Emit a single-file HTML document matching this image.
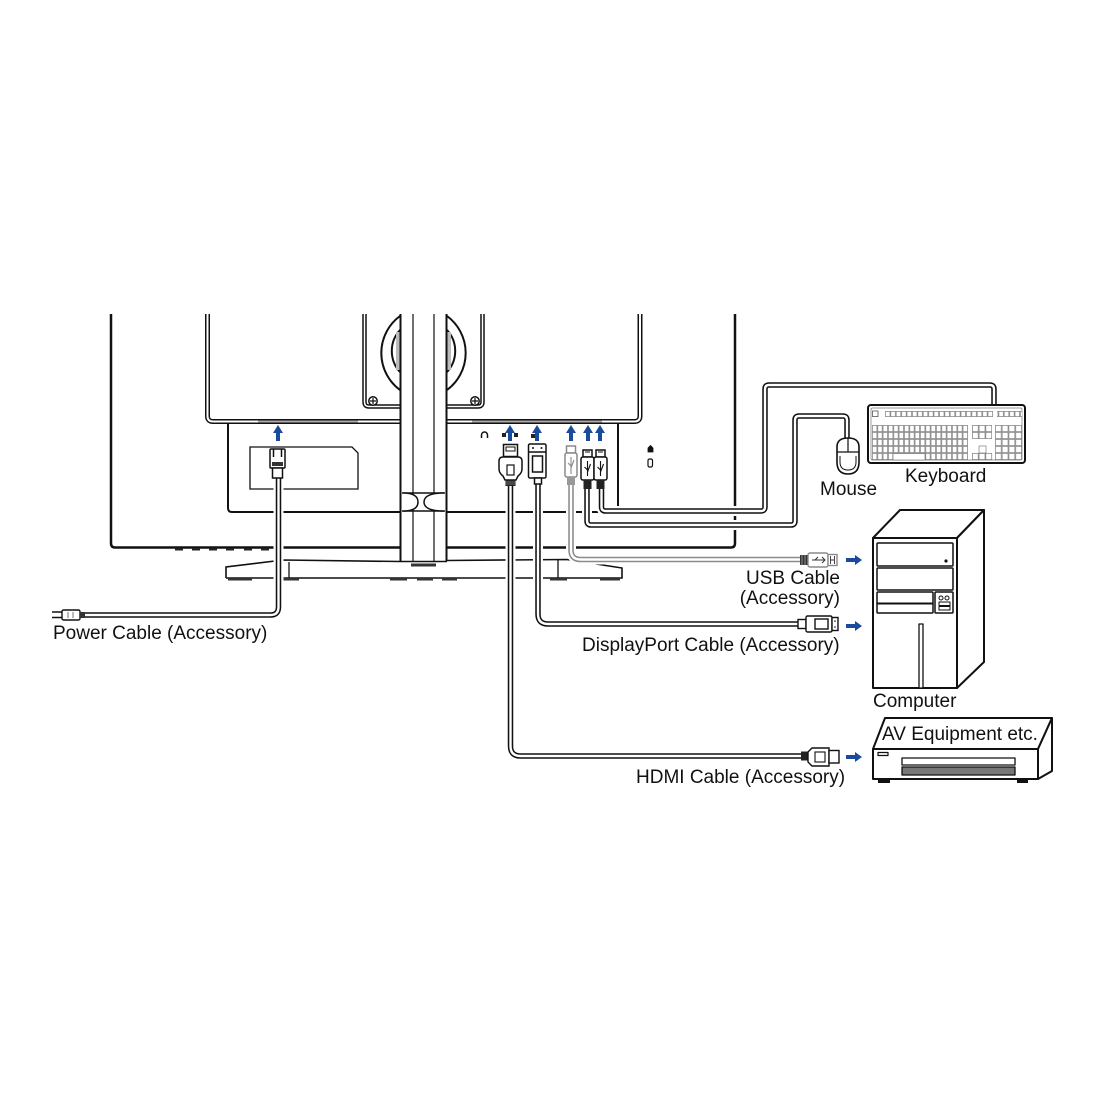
<!DOCTYPE html>
<html><head><meta charset="utf-8">
<style>
html,body{margin:0;padding:0;background:#fff;width:1100px;height:1100px;overflow:hidden}
svg{display:block}
text{font-family:"Liberation Sans",Arial,sans-serif;font-size:19px;fill:#111}
</style></head><body>
<svg width="1100" height="1100" viewBox="0 0 1100 1100" xmlns="http://www.w3.org/2000/svg">
<defs>
 <pattern id="kA" patternUnits="userSpaceOnUse" x="872" y="425" width="5.33" height="7"><rect x="0.4" y="0.4" width="4.5" height="6.2" fill="#fff" stroke="#666" stroke-width="0.6"/></pattern>
 <pattern id="kF" patternUnits="userSpaceOnUse" x="885" y="411" width="5.4" height="6"><rect x="0.4" y="0.4" width="4.6" height="5.2" fill="#fff" stroke="#666" stroke-width="0.6"/></pattern>
 <pattern id="kN" patternUnits="userSpaceOnUse" x="972" y="425" width="6.7" height="7"><rect x="0.4" y="0.4" width="5.9" height="6.2" fill="#fff" stroke="#666" stroke-width="0.6"/></pattern>
 <pattern id="kP" patternUnits="userSpaceOnUse" x="995" y="425" width="6.75" height="7"><rect x="0.4" y="0.4" width="5.9" height="6.2" fill="#fff" stroke="#666" stroke-width="0.6"/></pattern>
 <path id="up" d="M-5,8 L0,0 L5,8 H2 V16 H-2 V8 Z" fill="#1a4a9c"/>
 <path id="rt" d="M0,-2 H9 V-5 L16,0 L9,5 V2 H0 Z" fill="#1a4a9c"/>
</defs>

<!-- ============ MONITOR ============ -->
<g fill="none" stroke="#111">
 <!-- outer body -->
 <path d="M111,314 V543 Q111,547.5 115,547.5 H400" stroke-width="2.5"/>
 <path d="M447,547.5 H731 Q735,547.5 735,543 V314" stroke-width="2.5"/>
 <!-- feet dashes -->
 <g fill="#222" stroke="none">
  <rect x="175" y="548" width="8" height="2.5"/><rect x="192" y="548" width="8" height="2.5"/>
  <rect x="209" y="548" width="8" height="2.5"/><rect x="226" y="548" width="8" height="2.5"/>
  <rect x="244" y="548" width="8" height="2.5"/><rect x="261" y="548" width="8" height="2.5"/>
 </g>
 <!-- panel double edge -->
 <path d="M207.5,314 V416 Q207.5,421.5 213,421.5 H400" stroke-width="5"/>
 <path d="M207.5,314 V416 Q207.5,421.5 213,421.5 H400" stroke="#fff" stroke-width="2"/>
 <path d="M447,421.5 H634.5 Q640,421.5 640,416 V314" stroke-width="5"/>
 <path d="M447,421.5 H634.5 Q640,421.5 640,416 V314" stroke="#fff" stroke-width="2"/>
 <rect x="258" y="420.5" width="100" height="2" fill="#aaa" stroke="none"/>
 <rect x="472" y="420.5" width="130" height="2" fill="#aaa" stroke="none"/>
 <!-- lower I/O box -->
 <path d="M228,424 V508 Q228,512 232,512 H400" stroke-width="2"/>
 <path d="M447,512 H618 V424" stroke-width="2"/>
 <!-- label box -->
 <path d="M250,447 H352 L358,453 V489 H250 Z" stroke-width="1.3"/>

 <!-- VESA plates -->
 <path d="M364.5,314 V402 Q364.5,406.5 369,406.5 H400" stroke-width="4.5"/>
 <path d="M364.5,314 V402 Q364.5,406.5 369,406.5 H400" stroke="#fff" stroke-width="1.5"/>
 <path d="M447,406.5 H478 Q482.5,406.5 482.5,402 V314" stroke-width="4.5"/>
 <path d="M447,406.5 H478 Q482.5,406.5 482.5,402 V314" stroke="#fff" stroke-width="1.5"/>
 <path d="M400,316 A46,46 0 0,0 400,390" stroke-width="2"/>
 <path d="M400,330 A31,31 0 0,0 400,372" stroke-width="2"/>
 <path d="M447,316 A46,46 0 0,1 447,390" stroke-width="2"/>
 <path d="M447,330 A31,31 0 0,1 447,372" stroke-width="2"/>
 <rect x="396" y="332" width="4" height="38" fill="#bbb" stroke="none"/>
 <rect x="447" y="332" width="4" height="38" fill="#bbb" stroke="none"/>
 <circle cx="373" cy="401" r="4.2" stroke-width="1.5" fill="#fff"/>
 <path d="M370,401 H376 M373,398 V404" stroke-width="1.2"/>
 <circle cx="475" cy="401" r="4.2" stroke-width="1.5" fill="#fff"/>
 <path d="M472,401 H478 M475,398 V404" stroke-width="1.2"/>

 <!-- neck -->
 <rect x="400" y="314" width="47" height="247" fill="#fff" stroke="none"/>
 <path d="M400.5,314 V561 M446.5,314 V561" stroke-width="2"/>
 <path d="M413,314 V561 M434,314 V561" stroke-width="1.2"/>
 <!-- cable clip -->
 <path d="M402,493 H445 M402,511 H445" stroke-width="1.5"/>
 <path d="M403,493 Q418,493 418,502 Q418,511 403,511" stroke-width="1.5" fill="#fff"/>
 <path d="M444,493 Q424,493 424,502 Q424,511 444,511" stroke-width="1.5" fill="#fff"/>

 <!-- base -->
 <path d="M226,578 V567 L283,560 L400,561.5" stroke-width="1.6"/>
 <path d="M447,560.5 L567,559.5 L622,568 V578 H226" stroke-width="1.6"/>
 <path d="M400,561.5 H447" stroke-width="1.6"/>
 <path d="M289,562 V578 M558,560 V578" stroke-width="1.3"/>
 <g fill="#333" stroke="none">
  <rect x="228" y="578" width="24" height="2.5"/><rect x="283" y="578" width="16" height="2.5"/>
  <rect x="390" y="578" width="17" height="2.5"/><rect x="417" y="578" width="16" height="2.5"/>
  <rect x="442" y="578" width="15" height="2.5"/><rect x="550" y="578" width="17" height="2.5"/>
  <rect x="600" y="578" width="20" height="2.5"/>
  <rect x="411" y="563.5" width="25" height="3"/>
 </g>
</g>

<!-- ============ CABLES ============ -->
<g fill="none" stroke-linejoin="round">
 <!-- halos -->
 <g stroke="#fff" stroke-width="10">
  <path d="M278.5,478 V607 Q278.5,615 270.5,615 H85"/>
  <path d="M510.5,486 V746 Q510.5,756 520.5,756 H801"/>
  <path d="M538,484 V614 Q538,624 548,624 H798"/>
  <path d="M571,485 V550 Q571,559.5 580.5,559.5 H801"/>
  <path d="M587,489 V521 Q587,525 591,525 H791 Q795,525 795,521 V420 Q795,416 799,416 H843 Q847,416 847,420 V438"/>
  <path d="M601.5,489 V507 Q601.5,511 605.5,511 H761 Q765,511 765,507 V389 Q765,385 769,385 H990 Q994,385 994,389 V405"/>
 </g>
 <g stroke="#111" stroke-width="5.5">
  <path d="M278.5,478 V607 Q278.5,615 270.5,615 H85"/>
  <path d="M510.5,486 V746 Q510.5,756 520.5,756 H801"/>
  <path d="M538,484 V614 Q538,624 548,624 H798"/>
  <path d="M587,489 V521 Q587,525 591,525 H791 Q795,525 795,521 V420 Q795,416 799,416 H843 Q847,416 847,420 V438"/>
  <path d="M601.5,489 V507 Q601.5,511 605.5,511 H761 Q765,511 765,507 V389 Q765,385 769,385 H990 Q994,385 994,389 V405"/>
 </g>
 <path d="M571,485 V550 Q571,559.5 580.5,559.5 H801" stroke="#8a8a8a" stroke-width="5.5"/>
 <g stroke="#fff" stroke-width="2.4">
  <path d="M278.5,478 V607 Q278.5,615 270.5,615 H85"/>
  <path d="M510.5,486 V746 Q510.5,756 520.5,756 H801"/>
  <path d="M538,484 V614 Q538,624 548,624 H798"/>
  <path d="M571,485 V550 Q571,559.5 580.5,559.5 H801"/>
  <path d="M587,489 V521 Q587,525 591,525 H791 Q795,525 795,521 V420 Q795,416 799,416 H843 Q847,416 847,420 V438"/>
  <path d="M601.5,489 V507 Q601.5,511 605.5,511 H761 Q765,511 765,507 V389 Q765,385 769,385 H990 Q994,385 994,389 V405"/>
 </g>
</g>

<!-- ============ CONNECTORS AT MONITOR ============ -->
<g stroke="#111" stroke-width="1.5" fill="#fff">
 <!-- power -->
 <rect x="270" y="449" width="15" height="19" rx="1"/>
 <path d="M273.5,449 V457 M281.5,449 V457" fill="none"/>
 <rect x="272" y="462" width="11" height="4" fill="#333" stroke="none"/>
 <rect x="272.5" y="468" width="10" height="10"/>
 <!-- HDMI -->
 <rect x="503.5" y="444.5" width="14" height="12"/>
 <rect x="506" y="447" width="9" height="4" fill="none" stroke-width="1"/>
 <path d="M499,461 Q499,457 503,457 H518 Q522,457 522,461 V469 Q522,473 518,476 L516,480 H505 L503,476 Q499,473 499,469 Z"/>
 <rect x="507" y="465" width="7" height="10" fill="none" stroke-width="1.2"/>
 <rect x="505.5" y="480" width="10" height="6" fill="#222" stroke="none"/>
 <path d="M506,482 H515 M506,484 H515" stroke="#888" stroke-width="0.7"/>
 <!-- DP -->
 <rect x="528.5" y="444" width="17.5" height="34" rx="1.5"/>
 <path d="M528.5,452 H546" fill="none"/>
 <circle cx="533" cy="448" r="1" fill="#111" stroke="none"/>
 <circle cx="541.5" cy="448" r="1" fill="#111" stroke="none"/>
 <rect x="532.5" y="456" width="10" height="16"/>
 <rect x="534.5" y="478" width="7" height="6"/>
 <!-- USB gray -->
 <g stroke="#8a8a8a">
  <rect x="566.5" y="446" width="9" height="7"/>
  <rect x="565" y="453" width="12" height="24" rx="2"/>
  <path d="M571,457 V474 M568,463 L571,466 M574,460 L571,468" fill="none" stroke-width="1.1"/>
  <rect x="567" y="477" width="8" height="8" fill="#999" stroke="none"/>
 </g>
 <!-- USB black 1 -->
 <rect x="583" y="450" width="9" height="7"/>
 <path d="M585,452 H590" stroke-width="1"/>
 <rect x="581" y="457" width="13" height="23" rx="2"/>
 <path d="M587.5,461 V476 M584.5,467 L587.5,470 M590.5,464 L587.5,472" fill="none" stroke-width="1.1"/>
 <rect x="583.5" y="480" width="8" height="9" fill="#222" stroke="none"/>
 <!-- USB black 2 -->
 <rect x="596" y="450" width="9" height="7"/>
 <path d="M598,452 H603" stroke-width="1"/>
 <rect x="594" y="457" width="13" height="23" rx="2"/>
 <path d="M600.5,461 V476 M597.5,467 L600.5,470 M603.5,464 L600.5,472" fill="none" stroke-width="1.1"/>
 <rect x="596.5" y="480" width="8" height="9" fill="#222" stroke="none"/>
</g>
<!-- small port icons -->
<g fill="none" stroke="#111" stroke-width="1.5">
 <path d="M481.5,438 V435 A3,3 0 0,1 487.5,435 V438"/>
 <path d="M648,452 V448 L650.5,445.5 L653,448 V452 Z" fill="#111" stroke-width="0.8"/>
 <rect x="648" y="459" width="4.5" height="8" rx="1.5" stroke-width="1.2"/>
</g>
<rect x="502" y="433" width="4" height="4" fill="#222"/>
<rect x="514" y="433" width="4" height="4" fill="#222"/>
<rect x="531" y="434" width="4" height="4" fill="#222"/>

<!-- up arrows -->
<use href="#up" x="278" y="425"/>
<use href="#up" x="510" y="425"/>
<use href="#up" x="537" y="425"/>
<use href="#up" x="571" y="425"/>
<use href="#up" x="588" y="425"/>
<use href="#up" x="600" y="425"/>

<!-- ============ CABLE ENDS ============ -->
<g stroke="#111" stroke-width="1.4" fill="#fff">
 <!-- power plug -->
 <path d="M52,612 H63 M52,617.5 H63" stroke-width="1.6" fill="none"/>
 <rect x="62" y="610" width="18" height="10" rx="1.5"/>
 <path d="M68,612 V618 M73,612 V618" stroke="#777" stroke-width="1" fill="none"/>
 <rect x="80" y="612" width="5" height="6" fill="#333" stroke="none"/>
 <!-- HDMI end -->
 <rect x="801" y="751.5" width="7" height="9" fill="#222" stroke="none"/>
 <path d="M808,752 L812,748 H829 V766 H812 L808,762 Z"/>
 <rect x="815" y="752" width="10" height="10" stroke-width="1.1"/>
 <rect x="829" y="750.5" width="10" height="12.5"/>
 <!-- DP end -->
 <rect x="798" y="619.5" width="8" height="9"/>
 <rect x="806" y="616" width="26" height="16" rx="1.5"/>
 <rect x="815" y="619" width="13" height="10"/>
 <rect x="832" y="617.5" width="6" height="13"/>
 <circle cx="835" cy="621" r="0.8" fill="#111" stroke="none"/>
 <circle cx="835" cy="627" r="0.8" fill="#111" stroke="none"/>
 <!-- USB end -->
 <g stroke="#8a8a8a">
  <rect x="800" y="555" width="8" height="10" fill="#333" stroke="none"/>
  <path d="M802,555 V565 M805,555 V565" stroke="#aaa" stroke-width="0.8"/>
  <rect x="808" y="553" width="20" height="14" rx="2"/>
  <path d="M812,560 H825 M822,557 L825,560 L822,563 M815,560 L818,557" fill="none" stroke="#333" stroke-width="1"/>
  <rect x="828" y="554.5" width="9" height="11"/>
  <path d="M830.5,556 V564 M834.5,556 V564 M830.5,560 H834.5" fill="none" stroke="#333" stroke-width="0.9"/>
 </g>
</g>

<!-- right arrows -->
<use href="#rt" x="846" y="560"/>
<use href="#rt" x="846" y="626"/>
<use href="#rt" x="846" y="757"/>

<!-- ============ KEYBOARD ============ -->
<rect x="868" y="405" width="157" height="58" rx="3" fill="#fff" stroke="#111" stroke-width="2"/>
<rect x="871" y="408" width="151" height="52" rx="1.5" fill="none" stroke="#777" stroke-width="0.7"/>
<rect x="872.5" y="411" width="5.5" height="5.5" fill="#fff" stroke="#555" stroke-width="0.8"/>
<rect x="885" y="411" width="108" height="6" fill="url(#kF)"/>
<rect x="997" y="411" width="25" height="6" fill="url(#kF)"/>
<rect x="872" y="425" width="96" height="35" fill="url(#kA)"/>
<rect x="893" y="453.5" width="32" height="6.5" fill="#fff" stroke="#666" stroke-width="0.6"/>
<rect x="972" y="425" width="20" height="14" fill="url(#kN)"/>
<rect x="979" y="446" width="7" height="7" fill="#fff" stroke="#666" stroke-width="0.6"/>
<rect x="972" y="453" width="20.1" height="7" fill="url(#kN)"/>
<rect x="995" y="425" width="27" height="35" fill="url(#kP)"/>

<!-- ============ MOUSE ============ -->
<g fill="#fff" stroke="#111" stroke-width="1.6">
 <path d="M837,456 V447 Q837,438 848,438 Q859,438 859,447 V462 Q859,474 848,474 Q837,474 837,462 Z"/>
 <path d="M837,452 H859 M848,438 V452" fill="none" stroke-width="1.2"/>
 <path d="M840,456 V462 Q840,470 848,470 Q856,470 856,462 V456" fill="none" stroke-width="1"/>
</g>

<!-- ============ COMPUTER ============ -->
<g fill="#fff" stroke="#111" stroke-width="2" stroke-linejoin="round">
 <path d="M873,538 L900,510 H984 L957,538 Z"/>
 <path d="M957,538 L984,510 V662 L957,688 Z"/>
 <rect x="873" y="538" width="84" height="150"/>
 <rect x="877" y="543" width="76" height="23" rx="1" stroke-width="1.5"/>
 <rect x="877" y="568" width="76" height="22" rx="1" stroke-width="1.5"/>
 <rect x="877" y="592" width="56" height="21" rx="1" stroke-width="1.5"/>
 <path d="M877,603.5 H933" stroke-width="2"/>
 <rect x="935" y="592" width="18" height="21" rx="1" stroke-width="1.5"/>
 <circle cx="941" cy="598" r="2" stroke-width="1"/>
 <circle cx="947" cy="598" r="2" stroke-width="1"/>
 <rect x="939" y="602" width="11" height="3.5" stroke-width="1"/>
 <rect x="939" y="606.5" width="11" height="3.5" stroke-width="1"/>
 <rect x="919" y="624" width="4" height="64" stroke-width="1.3"/>
</g>
<circle cx="946" cy="561" r="1.6" fill="#111"/>

<!-- ============ AV EQUIPMENT ============ -->
<g fill="#fff" stroke="#111" stroke-width="2" stroke-linejoin="round">
 <path d="M873,749 L885,718 H1052 L1038,749 Z"/>
 <path d="M1038,749 L1052,718 V771 L1038,779 Z"/>
 <rect x="873" y="749" width="165" height="30"/>
 <rect x="878" y="752.5" width="10" height="3" stroke-width="1.2"/>
 <rect x="902" y="758" width="113" height="7" stroke-width="1.3"/>
 <rect x="902" y="767" width="113" height="8" fill="#777" stroke-width="1.3"/>
 <rect x="878" y="779" width="12" height="4" fill="#111" stroke="none"/>
 <rect x="1017" y="779" width="11" height="4" fill="#111" stroke="none"/>
</g>

<!-- ============ LABELS ============ -->
<text x="905" y="482">Keyboard</text>
<text x="820" y="495">Mouse</text>
<text x="873" y="707">Computer</text>
<text x="882" y="740">AV Equipment etc.</text>
<text x="840" y="584" text-anchor="end">USB Cable</text>
<text x="840" y="604" text-anchor="end">(Accessory)</text>
<text x="582" y="651">DisplayPort Cable (Accessory)</text>
<text x="636" y="783">HDMI Cable (Accessory)</text>
<text x="53" y="639">Power Cable (Accessory)</text>
</svg>
</body></html>
